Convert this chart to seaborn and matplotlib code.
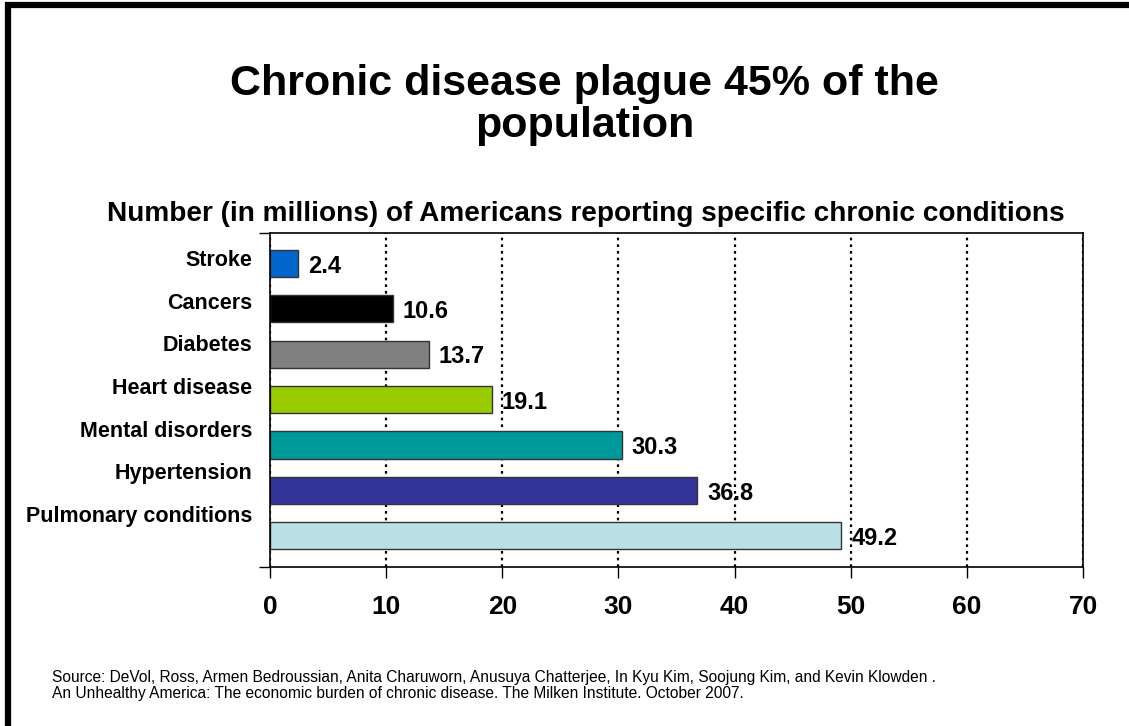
import numpy as np
import pandas as pd
import matplotlib
matplotlib.use("Agg")
import matplotlib.pyplot as plt
from matplotlib.patches import Rectangle
import seaborn as sns

categories = ["Stroke", "Cancers", "Diabetes", "Heart disease",
              "Mental disorders", "Hypertension", "Pulmonary conditions"]
values = [2.4, 10.6, 13.7, 19.1, 30.3, 36.8, 49.2]
colors = ["#0066CC", "#000000", "#808080", "#99CC00",
          "#009999", "#333399", "#B9E0E3"]
xticks = [0, 10, 20, 30, 40, 50, 60, 70]

title = "Chronic disease plague 45% of the\npopulation"
subtitle = "Number (in millions) of Americans reporting specific chronic conditions"
source = ("Source: DeVol, Ross, Armen Bedroussian, Anita Charuworn, Anusuya Chatterjee, "
          "In Kyu Kim, Soojung Kim, and Kevin Klowden .\n"
          "An Unhealthy America: The economic burden of chronic disease. "
          "The Milken Institute. October 2007.")

sns.set_style("white")
plt.rcParams["font.family"] = ["Liberation Sans", "DejaVu Sans"]
plt.rcParams["text.color"] = "black"
plt.rcParams["xtick.color"] = "black"
plt.rcParams["ytick.color"] = "black"

df = pd.DataFrame({"condition": categories, "value": values})

fig = plt.figure(figsize=(11.29, 7.26), dpi=100)
ax = fig.add_axes([0.2392, 0.219, 0.7201, 0.460])

sns.barplot(data=df, y="condition", x="value", hue="condition",
            palette=colors, legend=False, orient="h", width=0.6,
            saturation=1, edgecolor="#333333", linewidth=1.0, ax=ax)

for cont in ax.containers:
    for bar in cont:
        ax.annotate(f"{bar.get_width():.1f}",
                    (bar.get_x() + bar.get_width(), bar.get_y() + bar.get_height() / 2),
                    xytext=(7, -2), textcoords="offset points",
                    ha="left", va="center", fontsize=17, fontweight="bold",
                    color="black")

ax.set_xlim(0, 70)
ax.set_ylim(6.69, -0.67)
ax.set_xticks(xticks)
ax.set_xticklabels([str(v) for v in xticks], fontsize=19, fontweight="bold")
ax.tick_params(axis="x", bottom=True, length=8, width=1, direction="out",
               pad=12, color="black", labelcolor="black")

n = len(categories)
ax.set_yticks(np.arange(n) * 0.94 - 0.12)
ax.set_yticklabels(categories, fontsize=15.5, fontweight="bold")
ax.tick_params(axis="y", which="major", left=True, length=0, pad=13,
               labelcolor="black")
ax.set_yticks([-0.67, 6.69], minor=True)
ax.tick_params(axis="y", which="minor", left=True, length=8, width=1,
               direction="out", color="black")

ax.set_xlabel("")
ax.set_ylabel("")
ax.xaxis.grid(True, color="black", linestyle=(0, (1.2, 1.8)), linewidth=1.6)
ax.yaxis.grid(False)
ax.set_axisbelow(True)
for s in ax.spines.values():
    s.set_visible(True)
    s.set_color("black")
    s.set_linewidth(1.2)

fig.text(0.518, 1 - 137 / 726, title, ha="center", va="baseline", fontsize=31,
         fontweight="bold", linespacing=1.07, color="black")
fig.text(0.519, 1 - 221 / 726, subtitle, ha="center", va="baseline", fontsize=20.2,
         fontweight="bold", color="black")
fig.text(0.046, 1 - 698 / 726, source, ha="left", va="baseline", fontsize=11.2,
         linespacing=1.08, color="black")

fig.add_artist(Rectangle((0.0075, -0.05), 1.1, 1.043, transform=fig.transFigure,
                         fill=False, edgecolor="black", linewidth=4.5))

fig.savefig("out.png", dpi=100, facecolor="white")
